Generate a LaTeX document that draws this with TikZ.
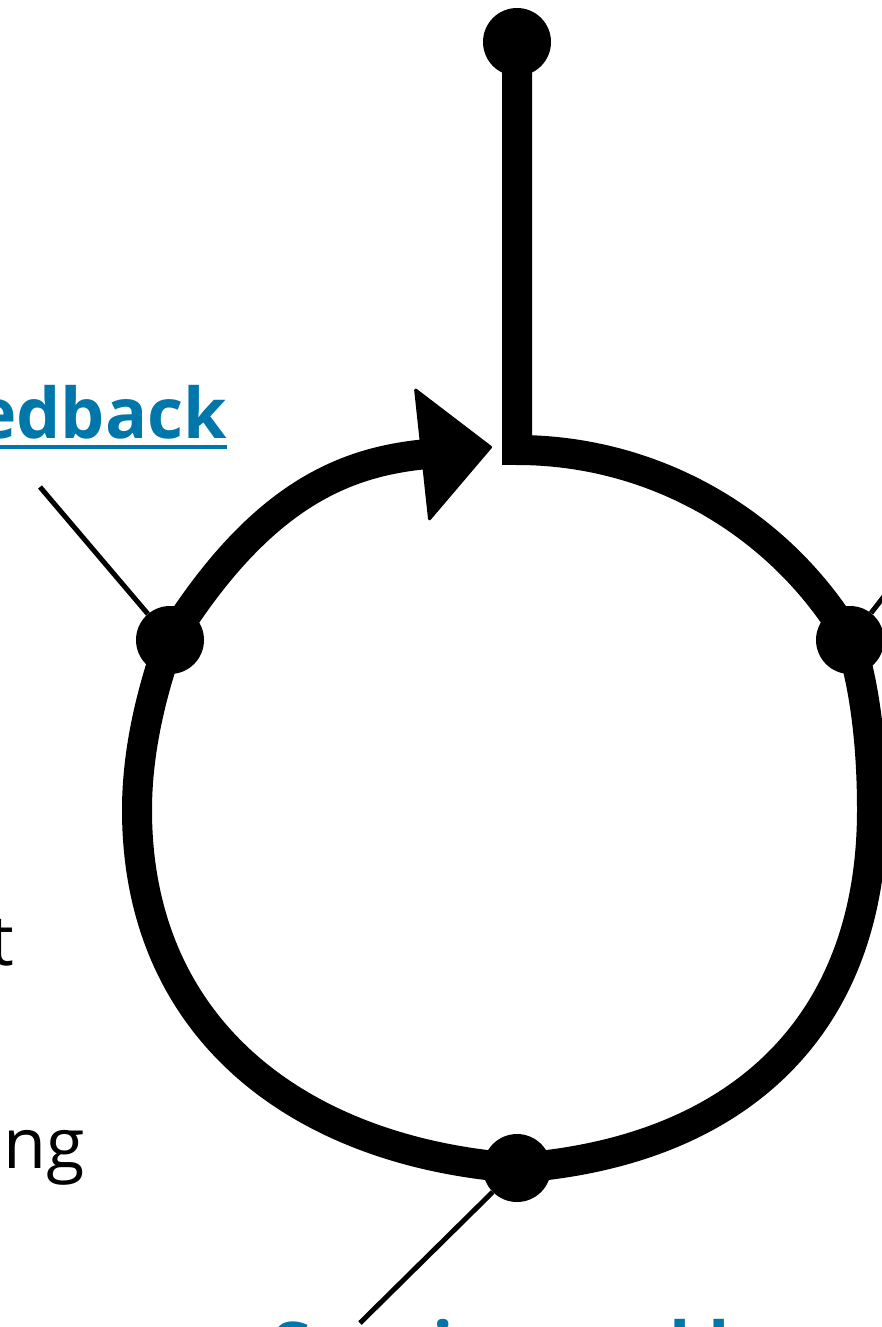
\documentclass[tikz,border=0pt]{standalone}
\usepackage{fontspec}
\setmainfont{Open Sans}
\usetikzlibrary{arrows.meta}
\definecolor{linkblue}{HTML}{0077AA}
\begin{document}
\begin{tikzpicture}[x=1pt,y=-1pt,
  dot/.style={circle,fill=black,minimum size=68pt,inner sep=0pt},
  loopline/.style={line width=30pt,black},
  leader/.style={line width=5pt,black},
  linklabel/.style={text=linkblue,font=\fontsize{70}{84}\selectfont\bfseries,inner sep=0pt},
  plainlabel/.style={text=black,font=\fontsize{70}{84}\selectfont,inner sep=0pt}]
\clip (0,0) rectangle (882,1327);
% nodes of the loop
\node[dot] (T) at (517,42) {};
\node[dot] (L) at (170,640) {};
\node[dot] (R) at (850,640) {};
\node[dot] (B) at (517,1168) {};
\coordinate (J) at (517,450);
\coordinate (tip) at (492,447);
% thick loop
\draw[loopline, line join=miter] (T.center) -- (J) arc[start angle=90, end angle=30.6, radius=386.8pt];
\draw[loopline, -{Triangle[length=72pt,width=136pt,line width=3pt,round]}] (L.center) .. controls (260,496) and (343,463) .. (tip);
\draw[loopline] (L.center) .. controls (152,690) and (137,750) .. (137,810) .. controls (137,1030) and (300,1152) .. (B.center);
\draw[loopline] (R.center) .. controls (866,690) and (872,750) .. (872,810) .. controls (872,1030) and (734,1152) .. (B.center);
% labels
\node[linklabel, anchor=base east] (fb) at (227,438) {Feedback};
\draw[linkblue, line width=4pt] ([yshift=-9pt]fb.base west) -- ([yshift=-9pt]fb.base east);
\node[plainlabel, anchor=base east] (lt) at (14,965) {t};
\node[plainlabel, anchor=base east] (lng) at (85,1168) {ng};
\node[linklabel, anchor=base west] (bl) at (272,1372) {Sensing and learning};
% leaders
\coordinate (fbend) at (40,487);
\draw[leader] (fbend) -- (L);
\coordinate (bend) at (360,1323);
\draw[leader] (B) -- (bend);
\coordinate (rend) at (910,563);
\draw[leader] (R) -- (rend);
\end{tikzpicture}
\end{document}
